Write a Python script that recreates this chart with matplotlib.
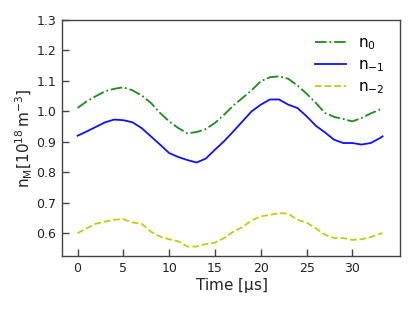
import matplotlib
matplotlib.use("Agg")
import matplotlib.pyplot as plt

plt.rcParams['mathtext.default'] = 'regular'
plt.rcParams['font.family'] = 'DejaVu Sans'

time_us = [0, 1, 2, 3, 4, 5, 6, 7, 8, 9, 10, 11, 12, 13, 14, 15, 16, 17, 18, 19, 20,
           21, 22, 23, 24, 25, 26, 27, 28, 29, 30, 31, 32, 33, 33.3]
n0 = [1.011, 1.033, 1.050, 1.066, 1.074, 1.079, 1.069, 1.052, 1.028, 0.995, 0.967,
      0.945, 0.928, 0.932, 0.942, 0.962, 0.989, 1.019, 1.044, 1.069, 1.099, 1.112,
      1.115, 1.107, 1.085, 1.058, 1.028, 0.995, 0.982, 0.975, 0.967, 0.978, 0.993,
      1.006, 1.009]
n_m1 = [0.920, 0.934, 0.949, 0.964, 0.973, 0.971, 0.964, 0.945, 0.918, 0.891, 0.863,
        0.850, 0.840, 0.832, 0.845, 0.874, 0.902, 0.934, 0.967, 1.000, 1.022, 1.039,
        1.039, 1.022, 1.011, 0.984, 0.953, 0.931, 0.907, 0.896, 0.896, 0.891, 0.896,
        0.912, 0.918]
n_m2 = [0.600, 0.616, 0.631, 0.638, 0.644, 0.646, 0.635, 0.631, 0.605, 0.589, 0.580,
        0.573, 0.556, 0.556, 0.564, 0.569, 0.584, 0.605, 0.620, 0.642, 0.655, 0.660,
        0.666, 0.664, 0.644, 0.635, 0.616, 0.595, 0.584, 0.584, 0.578, 0.580, 0.587,
        0.598, 0.600]

fig = plt.figure(figsize=(4.15, 3.11), dpi=100)
ax = fig.add_axes([62/415, 1 - 256/311, (400-62)/415, (256-20)/311])

ax.plot(time_us, n0, color='#1a8c1a', linestyle='-.', lw=1.3, label=r'n$_0$')
ax.plot(time_us, n_m1, color='#1010ff', linestyle='-', lw=1.3, label=r'n$_{-1}$')
ax.plot(time_us, n_m2, color='#c8c810', linestyle='--', lw=1.3, label=r'n$_{-2}$')

ax.set_xlim(-1.7, 35.2)
ax.set_ylim(0.525, 1.3)
ax.set_xticks([0, 5, 10, 15, 20, 25, 30])
ax.set_yticks([0.6, 0.7, 0.8, 0.9, 1.0, 1.1, 1.2, 1.3])
ax.set_yticklabels(['0.6', '0.7', '0.8', '0.9', '1.0', '1.1', '1.2', '1.3'])

gray = '#444444'
for s in ax.spines.values():
    s.set_color(gray)
    s.set_linewidth(1.0)
ax.tick_params(direction='in', length=5, width=1, colors=gray, labelsize=9,
               labelcolor='#222222', pad=4)
ax.set_xlabel(r'Time [$\mu$s]', fontsize=11, color='#222222', labelpad=1)
ax.set_ylabel(r'n$_M$[10$^{18}\,$m$^{-3}$]', fontsize=11, color='#222222', labelpad=1)

leg = ax.legend(loc='upper right', frameon=False, fontsize=11, handlelength=2.0,
                borderaxespad=0.6, labelspacing=0.35)

fig.savefig('out.png', dpi=100)
